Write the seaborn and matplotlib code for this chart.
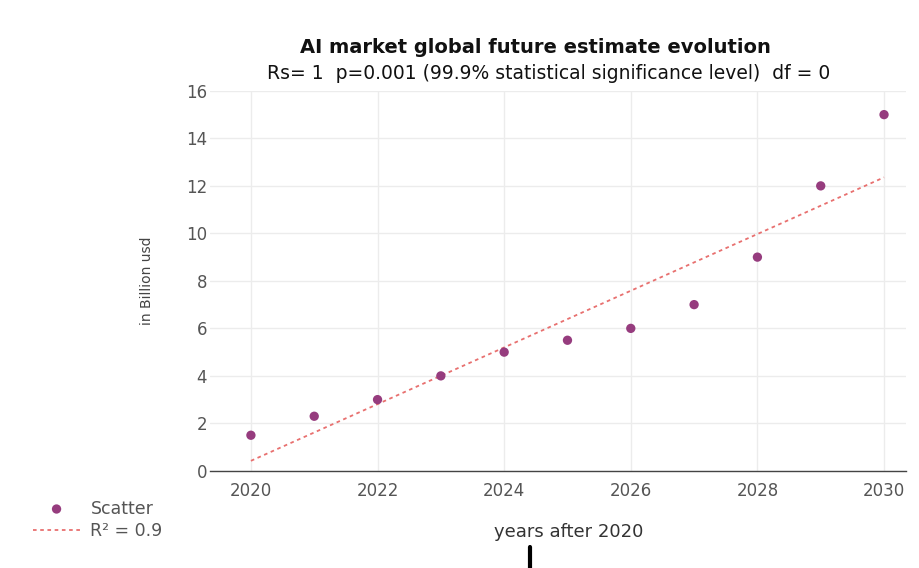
import numpy as np
import pandas as pd
import matplotlib
matplotlib.use("Agg")
import matplotlib.pyplot as plt
from matplotlib.lines import Line2D
import seaborn as sns

years = [2020, 2021, 2022, 2023, 2024, 2025, 2026, 2027, 2028, 2029, 2030]
values = [1.5, 2.3, 3.0, 4.0, 5.0, 5.5, 6.0, 7.0, 9.0, 12.0, 15.0]
x_ticks = [2020, 2022, 2024, 2026, 2028, 2030]
y_ticks = [0, 2, 4, 6, 8, 10, 12, 14, 16]

title = "AI market global future estimate evolution"
subtitle = "Rs= 1  p=0.001 (99.9% statistical significance level)  df = 0"

sns.set_theme(style="white")
plt.rcParams['font.family'] = ['DejaVu Sans']
plt.rcParams['font.sans-serif'] = ['DejaVu Sans']

df = pd.DataFrame({"year": years, "value": values})
coef = np.polyfit(df["year"] - 2020, df["value"], 1)
fit = pd.DataFrame({"year": years, "fit": np.polyval(coef, df["year"] - 2020)})

fig = plt.figure(figsize=(9.2, 5.68), dpi=100)
ax = fig.add_axes([0.228, 0.171, 0.757, 0.669])

sns.lineplot(data=fit, x="year", y="fit", ax=ax, color="#e8706f", lw=1.3,
             linestyle=(0, (2, 2)), label="R² = 0.9", zorder=2)
sns.scatterplot(data=df, x="year", y="value", ax=ax, color="#963c7e", s=45,
                edgecolor="none", label="Scatter", zorder=3)

ax.set_xlim(2019.35, 2030.35)
ax.set_ylim(0, 16)
ax.set_xticks(x_ticks)
ax.set_yticks(y_ticks)
ax.grid(True, color="#ececec", lw=1)
for s in ["top", "right", "left"]:
    ax.spines[s].set_visible(False)
ax.spines["bottom"].set_color("#444444")
ax.spines["bottom"].set_linewidth(1)
ax.tick_params(axis="both", colors="#555555", labelsize=12, length=0)
ax.tick_params(axis="x", pad=8)
ax.tick_params(axis="y", pad=2)
ax.set_xlabel("years after 2020", fontsize=13, color="#333333")
ax.xaxis.label.set_va("center")
ax.xaxis.set_label_coords(0.515, -0.16)
ax.set_ylabel("in Billion usd", fontsize=10, color="#444444")
ax.yaxis.label.set_va("center")
ax.yaxis.set_label_coords(-0.09, 0.5)

fig.text(0.582, 0.917, title, ha="center", va="center", fontsize=14,
         fontweight="bold", color="#111111")
fig.text(0.596, 0.871, subtitle, ha="center", va="center", fontsize=13.5,
         color="#111111")

handles, labels = ax.get_legend_handles_labels()
ax.get_legend().remove()
order = [labels.index("Scatter"), labels.index("R² = 0.9")]
fig.legend([handles[i] for i in order], [labels[i] for i in order],
           loc="upper left", bbox_to_anchor=(0.019, 0.148), frameon=False,
           fontsize=12.5, labelcolor="#555555", handlelength=2.7,
           labelspacing=0.25, handletextpad=0.6)

fig.add_artist(Line2D([530 / 920, 530 / 920], [0, 21 / 568], color="black",
                      lw=3, transform=fig.transFigure))

fig.savefig("out.png", dpi=100)
